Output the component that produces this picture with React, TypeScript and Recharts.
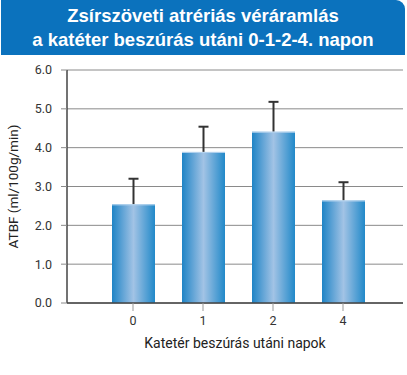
import { BarChart, Bar, XAxis, YAxis, CartesianGrid } from "recharts";

const days = ["0", "1", "2", "4"];
const atbfMeans = [2.54, 3.89, 4.41, 2.64];
const atbfErrors = [0.66, 0.65, 0.77, 0.47];
const yTicks = [0, 1, 2, 3, 4, 5, 6];

const data = days.map((day, i) => ({ day, atbf: atbfMeans[i], err: atbfErrors[i] }));

const FONT = "Roboto, 'Liberation Sans', sans-serif";

// bar with an upward-only error whisker, sized from the bar's own scale
// eslint-disable-next-line @typescript-eslint/no-explicit-any
function BarWithError(props: any) {
    const { x, y, width, height, payload } = props;
    const pxPerUnit = payload.atbf ? height / payload.atbf : 0;
    const errPx = payload.err * pxPerUnit;
    const cx = x + width / 2;
    return (
        <g>
            <line x1={cx} y1={y} x2={cx} y2={y - errPx} stroke="#333" strokeWidth={2} />
            <line x1={cx - 5} y1={y - errPx} x2={cx + 5} y2={y - errPx} stroke="#333" strokeWidth={2} />
            <rect x={x} y={y} width={width} height={height} fill="url(#barGrad)" />
            <line x1={x} y1={y + 0.5} x2={x + width} y2={y + 0.5} stroke="#b5d3ee" strokeWidth={1} />
        </g>
    );
}

// eslint-disable-next-line @typescript-eslint/no-explicit-any
function YLabel({ viewBox }: any) {
    const cy = viewBox.y + viewBox.height / 2;
    return (
        <text
            x={13}
            y={cy}
            transform={`rotate(-90, 13, ${cy})`}
            textAnchor="middle"
            dominantBaseline="central"
            fontFamily={FONT}
            fontSize={13.5}
            fill="#222"
        >
            ATBF (ml/100g/min)
        </text>
    );
}

export default function App() {
    return (
        <div style={{ position: "relative", width: 407, height: 375, background: "#fff", fontFamily: FONT }}>
            <style>{`body{margin:0}`}</style>
            <div
                style={{
                    position: "absolute",
                    left: 1,
                    top: 0,
                    width: 404,
                    height: 55,
                    background: "#0b72bd",
                    borderTopRightRadius: 9,
                    color: "#fff",
                    fontFamily: "'Liberation Sans', Arial, sans-serif",
                    fontWeight: 700,
                    fontSize: 18.5,
                    lineHeight: "24px",
                    textAlign: "center",
                    paddingTop: 4,
                    boxSizing: "border-box",
                }}
            >
                <div>Zsírszöveti atrériás véráramlás</div>
                <div>a katéter beszúrás utáni 0-1-2-4. napon</div>
            </div>
            <BarChart
                width={407}
                height={375}
                data={data}
                margin={{ top: 70, right: 4, left: 0, bottom: 12 }}
                style={{ position: "absolute", left: 0, top: 0 }}
            >
                <defs>
                    <linearGradient id="barGrad" x1="0" y1="0" x2="1" y2="0">
                        <stop offset="0%" stopColor="#1f84c6" />
                        <stop offset="50%" stopColor="#a2c3e5" />
                        <stop offset="100%" stopColor="#2189c9" />
                    </linearGradient>
                </defs>
                <CartesianGrid vertical={false} stroke="#8a8a8a" strokeWidth={1} />
                <XAxis
                    dataKey="day"
                    padding={{ left: 31, right: 25 }}
                    axisLine={{ stroke: "#444", strokeWidth: 1.5 }}
                    tickLine={{ stroke: "#999" }}
                    tickSize={8}
                    tickMargin={5}
                    tick={{ fontSize: 12.5, fill: "#333", fontFamily: FONT }}
                    height={60}
                    label={{
                        value: "Katetér beszúrás utáni napok",
                        position: "insideBottom",
                        offset: 15,
                        fontSize: 14,
                        fill: "#222",
                        fontFamily: FONT,
                    }}
                />
                <YAxis
                    domain={[0, 6]}
                    ticks={yTicks}
                    interval={0}
                    width={67}
                    axisLine={{ stroke: "#444", strokeWidth: 1.5 }}
                    tickLine={{ stroke: "#8a8a8a" }}
                    tickSize={6}
                    tickMargin={9}
                    tickFormatter={(v: number) => v.toFixed(1)}
                    tick={{ fontSize: 12.5, fill: "#333", fontFamily: FONT }}
                    label={<YLabel />}
                />
                <Bar dataKey="atbf" barSize={43} shape={<BarWithError />} isAnimationActive={false} />
            </BarChart>
        </div>
    );
}
